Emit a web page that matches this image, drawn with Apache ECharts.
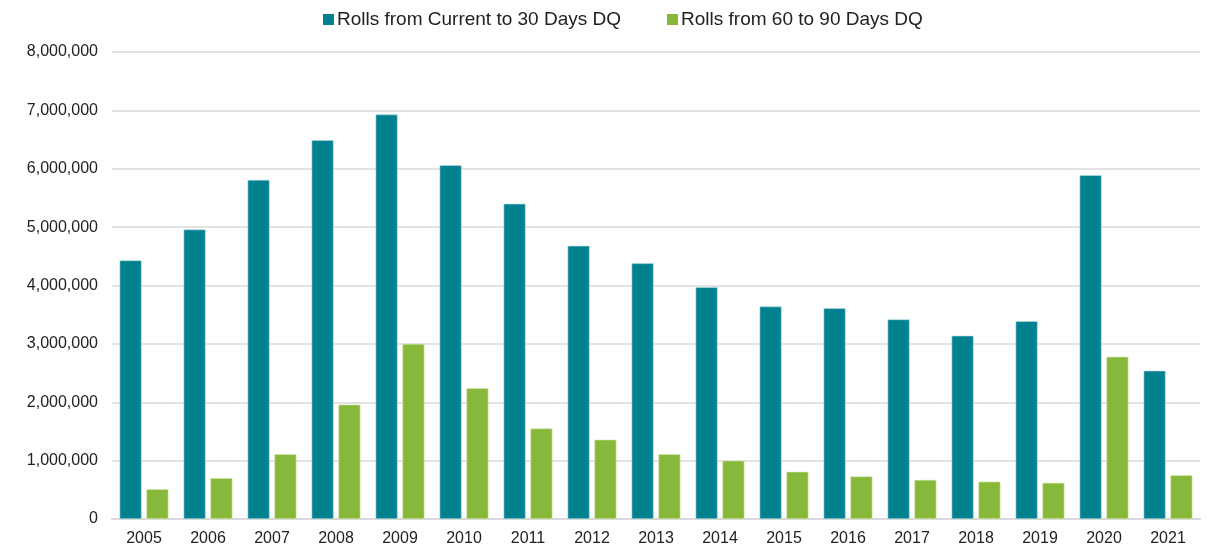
<!DOCTYPE html>
<html>
<head>
<meta charset="utf-8">
<script src="https://cdn.jsdelivr.net/npm/echarts@6/dist/echarts.min.js"></script>
<style>
  html, body { margin: 0; padding: 0; background: #fff; }
  #chart { width: 1211px; height: 550px; }
</style>
</head>
<body>
<div id="chart"></div>
<script>
// chart data
const years = ['2005', '2006', '2007', '2008', '2009', '2010', '2011', '2012', '2013',
  '2014', '2015', '2016', '2017', '2018', '2019', '2020', '2021'];
const rollsCurrentTo30 = [4430000, 4960000, 5810000, 6490000, 6930000, 6060000, 5400000,
  4680000, 4380000, 3970000, 3640000, 3610000, 3420000, 3140000, 3390000, 5890000, 2540000];
const rolls60To90 = [510000, 700000, 1110000, 1960000, 3000000, 2240000, 1550000,
  1360000, 1110000, 1000000, 810000, 730000, 670000, 640000, 620000, 2780000, 750000];
const yTicks = [0, 1000000, 2000000, 3000000, 4000000, 5000000, 6000000, 7000000, 8000000];

const fontFamily = '"Liberation Sans", Arial, sans-serif';

const chart = echarts.init(document.getElementById('chart'));

const option = {
  animation: false,
  color: ['#01808F', '#88B83A'],
  legend: {
    top: 5,
    left: 318,
    itemWidth: 11,
    itemHeight: 11,
    itemGap: 46,
    icon: 'rect',
    itemStyle: { borderWidth: 0 },
    textStyle: { fontFamily, fontSize: 19, color: '#222', padding: [0, 0, 0, -2] },
    data: ['Rolls from Current to 30 Days DQ', 'Rolls from 60 to 90 Days DQ']
  },
  grid: { left: 112, right: 11, top: 52, bottom: 31, containLabel: false },
  xAxis: {
    type: 'category',
    data: years,
    axisTick: { show: false },
    axisLine: { lineStyle: { color: '#d9d9d9', width: 2 } },
    axisLabel: { fontFamily, fontSize: 16, color: '#222', margin: 12 }
  },
  yAxis: {
    type: 'value',
    min: yTicks[0],
    max: yTicks[yTicks.length - 1],
    interval: 1000000,
    axisLine: { show: false },
    axisTick: { show: false },
    splitLine: { lineStyle: { color: '#d9d9d9', width: 1.5 } },
    axisLabel: {
      fontFamily, fontSize: 16, color: '#222', margin: 14,
      formatter: v => v.toLocaleString('en-US')
    }
  },
  series: [
    {
      name: 'Rolls from Current to 30 Days DQ',
      type: 'bar',
      data: rollsCurrentTo30,
      barWidth: 22,
      barGap: '22%',
      itemStyle: { borderColor: '#b8dde2', borderWidth: 0.6 }
    },
    {
      name: 'Rolls from 60 to 90 Days DQ',
      type: 'bar',
      data: rolls60To90,
      barWidth: 22,
      barGap: '22%',
      itemStyle: { borderColor: '#d6eab5', borderWidth: 0.6 }
    }
  ]
};

chart.setOption(option);
</script>
</body>
</html>
